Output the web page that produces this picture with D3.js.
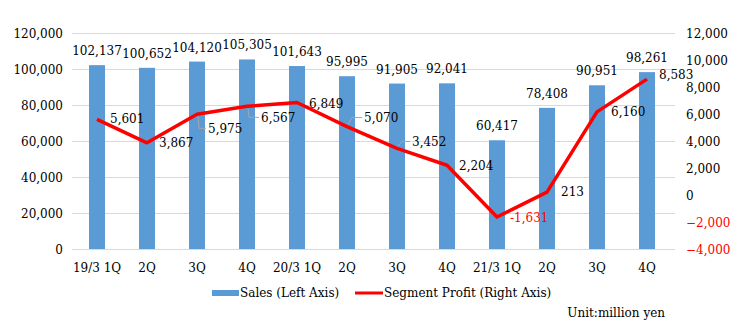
<!DOCTYPE html>
<html>
<head>
<meta charset="utf-8">
<script src="https://cdn.jsdelivr.net/npm/d3@7"></script>
<style>
  body { margin: 0; background: #fff; }
</style>
</head>
<body>
<script>
// data
const categories = ["19/3 1Q", "2Q", "3Q", "4Q", "20/3 1Q", "2Q ", "3Q ", "4Q ", "21/3 1Q", "2Q  ", "3Q  ", "4Q  "];
const sales = [102137, 100652, 104120, 105305, 101643, 95995, 91905, 92041, 60417, 78408, 90951, 98261];
const profit = [5601, 3867, 5975, 6567, 6849, 5070, 3452, 2204, -1631, 213, 6160, 8583];
const leftTicks = [0, 20000, 40000, 60000, 80000, 100000, 120000];
const rightTicks = [-4000, -2000, 0, 2000, 4000, 6000, 8000, 10000, 12000];
// label offsets for profit labels (dx, dy from point), leader = draw gray leader line
const profitLabelPos = [
  {dx: 13, dy: -1}, {dx: 12, dy: 0}, {dx: 11, dy: 14, leader: true}, {dx: 14, dy: 11, leader: true},
  {dx: 12, dy: 1}, {dx: 17, dy: -9, leader: true}, {dx: 15, dy: -7, leader: true}, {dx: 12, dy: 1},
  {dx: 13, dy: 1}, {dx: 14, dy: 0}, {dx: 14, dy: 0}, {dx: 12, dy: -4}
];

const W = 737, H = 331;
const serif = '"DejaVu Serif", serif';
const svg = d3.select("body").append("svg").attr("width", W).attr("height", H)
  .style("font-family", serif).style("font-size", "12px");

const x = d3.scaleBand().domain(categories).range([72, 672]).paddingInner(0.68).paddingOuter(0.34);
const yL = d3.scaleLinear().domain([0, 120000]).range([249, 33]);
const yR = d3.scaleLinear().domain([-4000, 12000]).range([249, 33]);
const fmt = d3.format(",");

// gridlines
svg.append("g").selectAll("line").data(leftTicks).join("line")
  .attr("x1", 72).attr("x2", 675)
  .attr("y1", d => yL(d) + 0.5).attr("y2", d => yL(d) + 0.5)
  .attr("stroke", "#d9d9d9").attr("stroke-width", 1);

// left axis
const axL = svg.append("g").attr("transform", "translate(63,0)")
  .call(d3.axisLeft(yL).tickValues(leftTicks).tickFormat(fmt).tickSize(0).tickPadding(0));
axL.attr("font-family", null).attr("font-size", null);
axL.select(".domain").remove();
axL.selectAll("text").attr("dy", "0.35em").attr("fill", "#000");

// right axis
const axR = svg.append("g").attr("transform", "translate(686,0)")
  .call(d3.axisRight(yR).tickValues(rightTicks).tickFormat(fmt).tickSize(0).tickPadding(0));
axR.attr("font-family", null).attr("font-size", null);
axR.select(".domain").remove();
axR.selectAll("text").attr("dy", "0.35em").attr("fill", d => d < 0 ? "#ff0000" : "#000");

// x axis labels
svg.append("g").selectAll("text").data(categories).join("text")
  .attr("x", d => x(d) + x.bandwidth() / 2).attr("y", 272)
  .attr("text-anchor", "middle").text(d => d.trim());

// bars
svg.append("g").selectAll("rect").data(sales).join("rect")
  .attr("x", (d, i) => x(categories[i]))
  .attr("width", x.bandwidth())
  .attr("y", d => yL(d)).attr("height", d => yL(0) - yL(d))
  .attr("fill", "#5b9bd5");

// bar labels
svg.append("g").selectAll("text").data(sales).join("text")
  .attr("x", (d, i) => x(categories[i]) + x.bandwidth() / 2)
  .attr("y", d => yL(d) - 10)
  .attr("text-anchor", "middle").text(fmt);

// profit line
const cx = i => x(categories[i]) + x.bandwidth() / 2;
svg.append("path").datum(profit)
  .attr("fill", "none").attr("stroke", "#ff0000").attr("stroke-width", 3.5)
  .attr("stroke-linejoin", "round")
  .attr("d", d3.line().x((d, i) => cx(i)).y(d => yR(d)));

// profit labels
const pl = svg.append("g");
profit.forEach((d, i) => {
  const p = profitLabelPos[i];
  const px = cx(i), py = yR(d);
  if (p.leader) {
    const sy = p.dy > 0 ? 2 : -2;
    pl.append("path")
      .attr("d", `M${px + 1},${py + sy}L${px + (p.dy > 0 ? 2 : 5)},${py + p.dy}L${px + p.dx - 2},${py + p.dy}`)
      .attr("fill", "none").attr("stroke", "#a6a6a6").attr("stroke-width", 1);
  }
  pl.append("text")
    .attr("x", px + p.dx).attr("y", py + p.dy).attr("dy", "0.35em")
    .attr("fill", d < 0 ? "#ff0000" : "#000")
    .text(fmt(d).replace("\u2212", "-"));
});

// legend
const lg = svg.append("g");
lg.append("rect").attr("x", 212).attr("y", 290).attr("width", 27).attr("height", 6).attr("fill", "#5b9bd5");
lg.append("text").attr("x", 240).attr("y", 293).attr("dy", "0.35em").text("Sales (Left Axis)");
lg.append("line").attr("x1", 355).attr("x2", 383).attr("y1", 293).attr("y2", 293)
  .attr("stroke", "#ff0000").attr("stroke-width", 3);
lg.append("text").attr("x", 384).attr("y", 293).attr("dy", "0.35em").text("Segment Profit (Right Axis)");

svg.append("text").attr("x", 665).attr("y", 313).attr("dy", "0.35em")
  .attr("text-anchor", "end").text("Unit:million yen");
</script>
</body>
</html>
